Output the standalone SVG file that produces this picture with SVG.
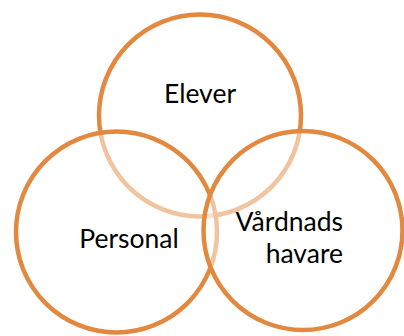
<svg xmlns="http://www.w3.org/2000/svg" width="404" height="336" viewBox="0 0 404 336">
<style>
.c{fill:#ffffff;fill-opacity:0.5;stroke:#E2893F;stroke-width:4.5}
.t{font-family:Lato,"Liberation Sans",sans-serif;font-size:26.5px;fill:#000}
</style>
<rect width="404" height="336" fill="#ffffff"/>
<g id="elever">
<circle class="c" cx="200" cy="115.5" r="101"/>
<text class="t" x="200" y="103" text-anchor="middle">Elever</text>
</g>
<g id="personal">
<circle class="c" cx="116.5" cy="232" r="100.5"/>
<text class="t" x="129" y="248" text-anchor="middle">Personal</text>
</g>
<g id="vardnadshavare">
<circle class="c" cx="303" cy="230.5" r="99.5"/>
<text class="t" x="343" y="231" text-anchor="end">Vårdnads</text>
<text class="t" x="343" y="263" text-anchor="end">havare</text>
</g>
<g id="connectors"/>
</svg>
